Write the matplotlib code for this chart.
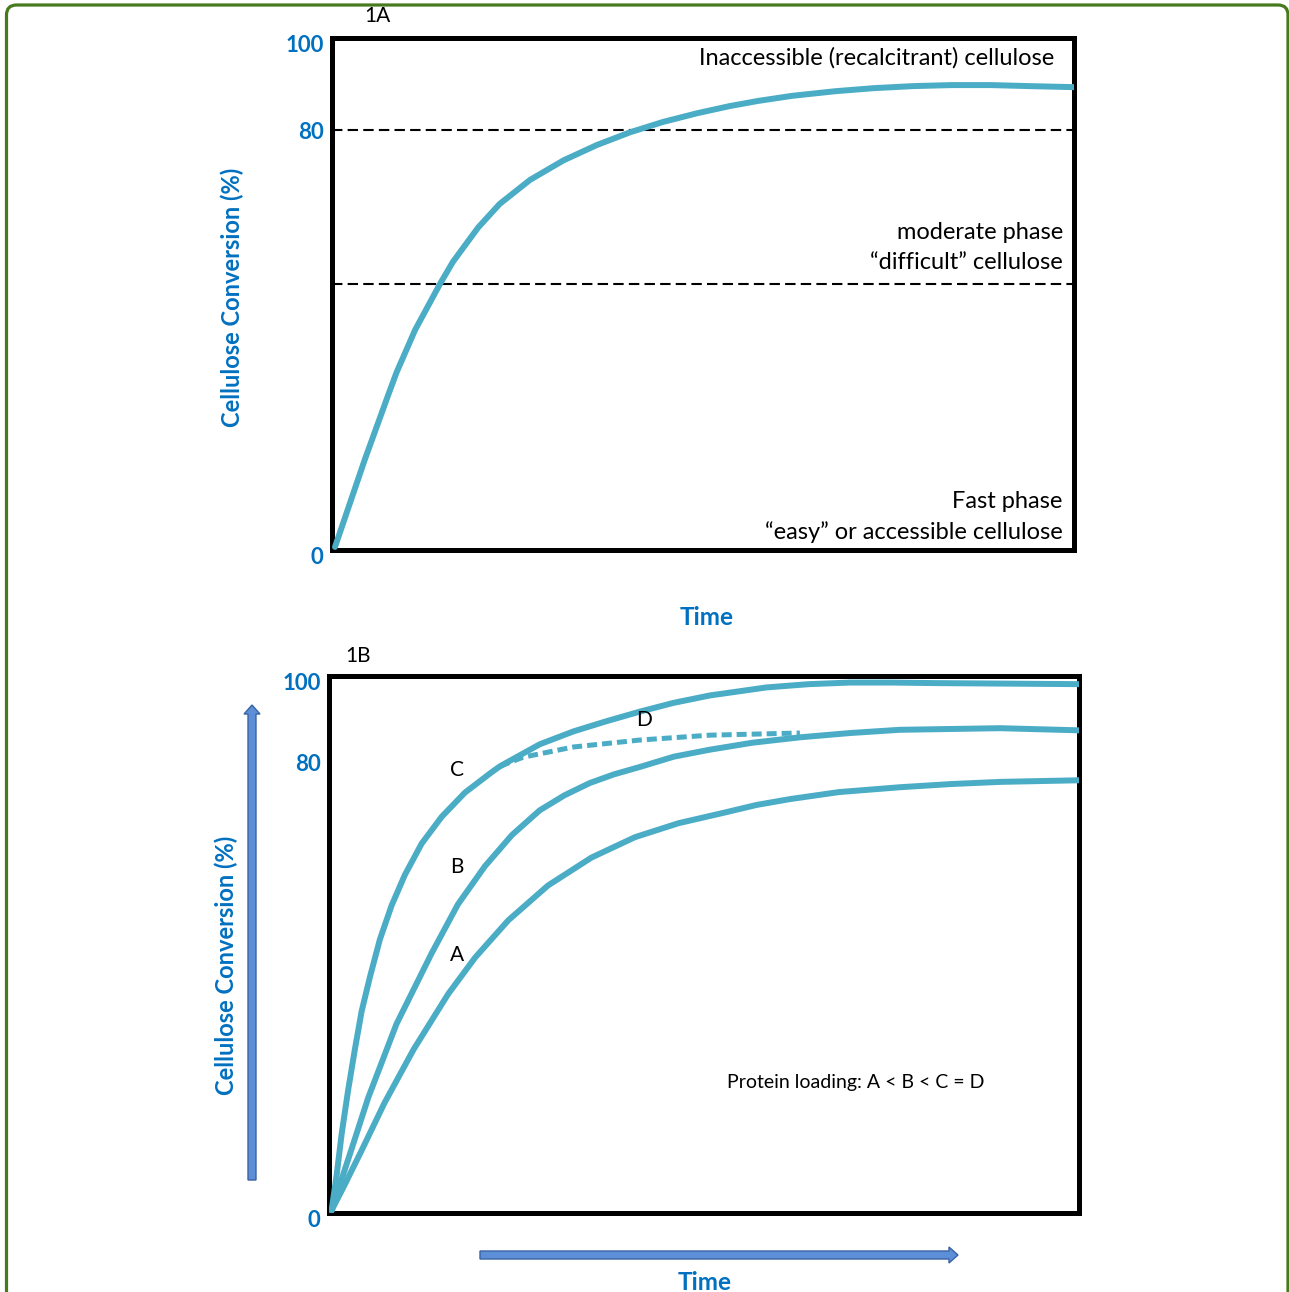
import matplotlib.pyplot as plt
import matplotlib.transforms as mtrans
from matplotlib.patches import FancyArrow, FancyBboxPatch

plt.rcParams['font.family'] = ['Lato', 'DejaVu Sans']

# ---- panel 1A: one curve, three phases
time_a = [0.4, 4.4, 7.6, 8.7, 11.2, 14.6, 16.3, 19.7, 22.6, 26.7, 31.2, 35.7, 40.2, 44.6,
          49.2, 53.6, 57.4, 62.0, 67.8, 73.0, 78.3, 83.5, 88.8, 94.0, 100]
conv_a = [0.6, 17.6, 30.4, 34.7, 43.0, 52.1, 56.3, 63.0, 67.6, 72.3, 76.1, 79.1, 81.6, 83.6,
          85.3, 86.7, 87.7, 88.7, 89.6, 90.2, 90.6, 90.8, 90.8, 90.6, 90.4]
phase_lines = [52, 82]
yticks_a = [0, 83, 100]

# ---- panel 1B: protein loading A < B < C = D
time_c = [0.35, 1.03, 1.69, 2.57, 3.47, 4.36, 5.47, 6.8, 8.36, 10.13, 12.36, 15.03, 18.13,
          21.69, 22.8, 28.1, 32.6, 37.0, 41.5, 45.9, 50.8, 58.4, 64.0, 69.5, 75.0, 80.6, 100]
conv_c = [0.5, 7.1, 14.7, 23.0, 30.6, 37.6, 44.0, 51.0, 57.3, 63.0, 68.8, 73.8, 78.3,
          82.1, 83.2, 87.3, 89.7, 91.6, 93.4, 95.0, 96.4, 97.9, 98.5, 98.8, 98.8, 98.7, 98.5]
time_b = [0.35, 1.5, 2.8, 5.24, 9.0, 13.7, 17.2, 20.8, 24.4, 28.1, 31.4, 34.8, 38.0, 41.5,
          46.0, 50.8, 56.5, 62.8, 69.5, 76.1, 89.5, 100]
conv_b = [0.5, 5.5, 11.0, 21.5, 35.2, 48.4, 57.5, 64.6, 70.4, 75.0, 77.8, 80.1, 81.7, 83.1,
          85.0, 86.3, 87.6, 88.6, 89.4, 90.0, 90.3, 89.9]
time_aa = [0.35, 2.0, 4.3, 7.4, 11.3, 15.9, 19.5, 23.9, 29.2, 35.0, 40.8, 46.6, 52.8,
           57.0, 61.5, 68.0, 76.1, 83.0, 89.5, 100]
conv_aa = [0.5, 5.0, 11.5, 20.5, 30.5, 40.8, 47.6, 54.5, 61.0, 66.2, 70.0, 72.6, 74.6,
           76.0, 77.1, 78.4, 79.3, 79.9, 80.3, 80.6]
time_d = [22.8, 25.9, 32.6, 41.5, 50.8, 62.8]
conv_d = [83.2, 84.9, 86.8, 88.1, 89.0, 89.4]
yticks_b = [0, 85, 100]
ytick_labels = ['0', '80', '100']

curve_col = '#4BACC6'
blue = '#0070C0'

fig = plt.figure(figsize=(12.89, 12.92), dpi=100)

# green rounded frame round the whole figure
frame = FancyBboxPatch((6.5, -30), 1281.5, 1317, boxstyle='round,pad=0,rounding_size=10',
                       transform=mtrans.IdentityTransform(), fill=False,
                       edgecolor='#467A1C', linewidth=2.3)
fig.patches.append(frame)

ax1 = fig.add_axes([0.2576, 0.5743, 0.5756, 0.3963])
ax2 = fig.add_axes([0.2552, 0.0611, 0.5818, 0.4156])

off = mtrans.ScaledTranslation(0, -4 / 72, fig.dpi_scale_trans)

for ax, ticks in [(ax1, yticks_a), (ax2, yticks_b)]:
    ax.set_xlim(0, 100)
    ax.set_ylim(0, 100)
    for s in ax.spines.values():
        s.set_linewidth(3.6)
        s.set_color('black')
    ax.set_xticks([])
    ax.set_yticks(ticks)
    ax.set_yticklabels(ytick_labels, color=blue, fontweight='bold', fontsize=16)
    ax.tick_params(axis='y', length=0, pad=6)
    for lbl in ax.get_yticklabels():
        lbl.set_transform(lbl.get_transform() + off)
    ax.set_ylabel('Cellulose Conversion (%)', color=blue, fontweight='bold', fontsize=17)
    ax.set_xlabel('Time', color=blue, fontweight='bold', fontsize=17.5)

ax1.yaxis.set_label_coords(-0.1186, 0.494)
ax1.xaxis.set_label_coords(0.505, -0.109)
ax2.yaxis.set_label_coords(-0.121, 0.462)
ax2.xaxis.set_label_coords(0.501, -0.108)

# 1A
for y in phase_lines:
    ax1.axhline(y, color='black', linewidth=1.5, dashes=(5, 2.5))
ax1.plot(time_a, conv_a, color=curve_col, linewidth=4.3, solid_capstyle='round',
         solid_joinstyle='round', zorder=3)
ax1.text(6.1, 104.3, '1A', fontsize=15, ha='center', va='center', clip_on=False)
ax1.text(97.4, 96.1, 'Inaccessible (recalcitrant) cellulose', fontsize=17, ha='right', va='center')
ax1.text(98.5, 62.1, 'moderate phase', fontsize=17, ha='right', va='center')
ax1.text(98.5, 56.2, '\u201cdifficult\u201d cellulose', fontsize=17, ha='right', va='center')
ax1.text(98.5, 9.4, 'Fast phase', fontsize=17, ha='right', va='center')
ax1.text(98.5, 3.5, '\u201ceasy\u201d or accessible cellulose', fontsize=17, ha='right', va='center')

# 1B
for t, c in [(time_c, conv_c), (time_b, conv_b), (time_aa, conv_aa)]:
    ax2.plot(t, c, color=curve_col, linewidth=4.3, solid_capstyle='round',
             solid_joinstyle='round', zorder=3)
ax2.plot(time_d, conv_d, color=curve_col, linewidth=3.6, dashes=(2, 1), zorder=3)
ax2.text(3.9, 103.7, '1B', fontsize=15, ha='center', va='center', clip_on=False)
for name, x, y in [('C', 17.1, 82.5), ('B', 17.1, 64.4), ('A', 17.1, 48.0), ('D', 42.0, 91.8)]:
    ax2.text(x, y, name, fontsize=15, ha='center', va='center')
ax2.text(70.3, 24.4, 'Protein loading: A < B < C = D', fontsize=14, ha='center', va='center')

# blue arrows beside panel 1B (display pixels, origin bottom-left)
H = 1292
idt = mtrans.IdentityTransform()
up = FancyArrow(252, H - 1180, 0, 475, width=8, head_width=16, head_length=9,
                length_includes_head=True, transform=idt,
                facecolor='#5D8FD8', edgecolor='#3A63A3', linewidth=1)
right = FancyArrow(480, H - 1255, 478, 0, width=8, head_width=16, head_length=9,
                   length_includes_head=True, transform=idt,
                   facecolor='#5D8FD8', edgecolor='#3A63A3', linewidth=1)
fig.patches.extend([up, right])

fig.savefig('out.png', dpi=100)
